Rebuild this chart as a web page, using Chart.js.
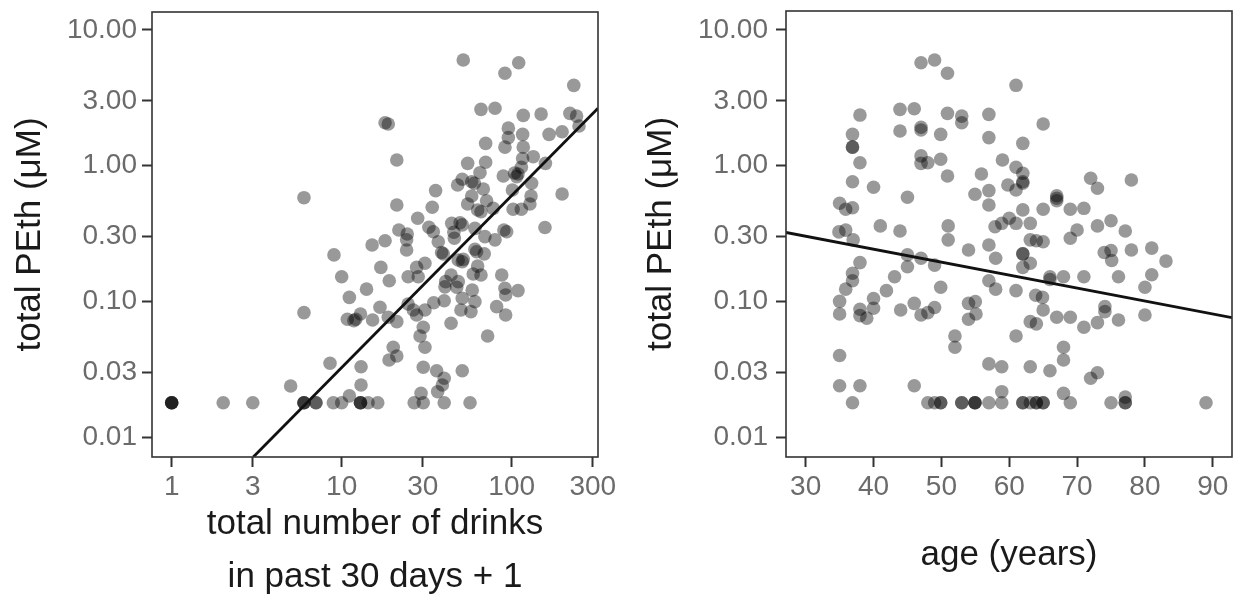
<!DOCTYPE html>
<html>
<head>
<meta charset="utf-8">
<script src="https://cdn.jsdelivr.net/npm/chart.js@4.4.1/dist/chart.umd.min.js"></script>
<style>
  html, body { margin: 0; padding: 0; background: #ffffff; }
  #wrap { position: relative; width: 1243px; height: 604px; overflow: hidden; background: #fff; }
  canvas { position: absolute; top: 0; }
  #c1 { left: 0px; }
  #c2 { left: 623px; }
</style>
</head>
<body>
<div id="wrap">
  <canvas id="c1" width="620" height="604"></canvas>
  <canvas id="c2" width="620" height="604"></canvas>
</div>
<script>
// ---------- DATA ----------
const yTickValues = [0.01, 0.03, 0.1, 0.3, 1, 3, 10];
const drinkTickValues = [1, 3, 10, 30, 100, 300];
const ageTickValues = [30, 40, 50, 60, 70, 80, 90];

// left panel: total drinks in past 30 days + 1
const drinks = [
  51.9, 110, 91.3, 232, 66, 79.8, 117, 149, 220, 241, 249, 18, 18.8, 95.6, 95.6, 116, 166, 198,
  70.3, 91.3, 117, 134, 21.1, 116, 70.3, 55.1, 158, 114, 65.1, 104, 109, 107, 89.3, 51.2,
  58.2, 60.3, 48.1, 68.1, 101, 131, 35.7, 58.2, 130, 198, 21.1, 34.1, 55.1, 71.2, 77.9, 63.1,
  66, 102, 114, 128, 28, 32.6, 34.6, 44.4, 49.7, 51.2, 21.7, 24.3, 24.1, 60.8, 90, 93.5, 157,
  18, 45.7, 46, 69.6, 79.8, 24.1, 15.1, 37, 38.7, 39.6, 60.8, 62.2, 69, 48.5, 51.2, 51.9,
  30.9, 27.6, 24.6, 28.2, 17, 19.05, 44, 40.9, 48.5, 40.5, 47.5, 63.1, 59.4, 66, 87.4, 58.6,
  91.3, 92.2, 109, 40.1, 34.8, 51.2, 60.8, 50.3, 57.6, 81.6, 92.2, 24.6, 26.4, 27.6, 30.9,
  16.8, 18.8, 21.1, 30.2, 28.9, 44, 72.2, 30.9, 20.1, 21.1, 19, 30.2, 36.2, 40.1, 39.1, 36.7,
  51.2, 29.3, 16.3, 26.7, 30.2, 40.1, 56.9,
  9.01, 10, 14, 11.1, 6, 10.8, 12.1, 11.8, 12.9, 15.2, 8.54, 13, 13, 5.01, 11.1,
  1, 1, 1, 1, 2.01, 3, 6, 6, 6, 7.06, 7.06, 8.93, 10, 12.9, 12.9, 12.9, 14.3, 6
];
const drinksPEth = [
  6.01, 5.74, 4.8, 3.91, 2.6, 2.65, 2.35, 2.4, 2.43, 2.32, 1.96, 2.07, 2.03, 1.89, 1.61, 1.7, 1.7, 1.78,
  1.46, 1.37, 1.37, 1.165, 1.1, 1.13, 1.06, 1.04, 1.04, 0.973, 0.888, 0.884, 0.869, 0.83, 0.839, 0.794,
  0.762, 0.742, 0.721, 0.673, 0.662, 0.742, 0.655, 0.598, 0.598, 0.619, 0.513, 0.494, 0.522, 0.552, 0.485, 0.472,
  0.458, 0.477, 0.477, 0.522, 0.41, 0.352, 0.326, 0.376, 0.38, 0.366, 0.336, 0.314, 0.284, 0.345, 0.336, 0.326, 0.35,
  0.28, 0.323, 0.292, 0.30, 0.284, 0.239, 0.26, 0.275, 0.229, 0.224, 0.242, 0.232, 0.224, 0.202, 0.196, 0.204,
  0.191, 0.178, 0.152, 0.152, 0.178, 0.142, 0.1565, 0.1397, 0.1397, 0.128, 0.127, 0.182, 0.159, 0.1565, 0.1565, 0.121,
  0.125, 0.1115, 0.12, 0.101, 0.0978, 0.1054, 0.0995, 0.0864, 0.084, 0.0914, 0.0794, 0.0957, 0.0864, 0.0794, 0.0864,
  0.0905, 0.0763, 0.0709, 0.0645, 0.0556, 0.069, 0.0556, 0.0459, 0.0459, 0.0396, 0.037, 0.0327, 0.0308, 0.0271, 0.0242, 0.0216,
  0.0308, 0.021, 0.0179, 0.0179, 0.0179, 0.0179, 0.0179,
  0.22, 0.152, 0.123, 0.107, 0.0826, 0.0738, 0.0738, 0.0721, 0.0807, 0.0729, 0.035, 0.033, 0.0242, 0.0238, 0.0201,
  0.0179, 0.0179, 0.0179, 0.0179, 0.0179, 0.0179, 0.0179, 0.0179, 0.0179, 0.0179, 0.0179, 0.0179, 0.0179, 0.0179, 0.0179, 0.0179, 0.0179, 0.581
];

// right panel: age in years
const ages = [
  47.0, 49.0, 50.9, 38.0, 43.9, 46.0, 50.9, 53.0, 53.0, 57.0, 36.9, 36.9, 36.9, 43.9, 47.0, 47.0, 49.9, 57.0,
  38.0, 36.9, 40.0, 45.0, 47.0, 47.0, 48.0, 49.9, 50.9, 55.9, 54.95, 57.0, 57.0, 59.0, 59.8,
  35.0, 35.9, 36.9, 34.9, 35.9, 41.0, 43.9, 51.0, 57.9, 58.9,
  61.0, 65.0, 62.0, 61.0, 62.0, 62.0, 61.0, 62.0, 67.0, 67.0, 67.0, 72.0, 73.0, 78.0, 62.0, 65.0, 69.0, 71.0,
  60.0, 61.0, 63.1, 70.0, 73.0, 75.0, 77.1,
  37.0, 51.0, 54.0, 57.0, 58.0, 38.0, 45.0, 47.0, 45.0, 49.0, 36.9, 36.9, 35.9, 43.1, 41.9, 49.9, 57.0, 58.0,
  35.0, 35.0, 38.0, 38.0, 39.0, 40.0, 40.0, 44.0, 46.0, 47.0, 48.0, 49.0, 54.0, 55.0, 54.0, 55.1, 52.0, 52.0,
  35.0, 57.0, 58.9, 35.0, 38.0, 46.0, 36.9, 58.9,
  48.0, 49.0, 49.9, 49.9, 53.0, 53.0, 54.95, 54.95, 54.95, 57.0, 58.9,
  63.1, 64.0, 65.0, 69.0, 62.0, 62.0, 63.1, 62.0, 74.0, 75.0, 75.1, 78.0, 81.0, 83.1, 66.0, 66.0, 68.0, 71.0,
  76.1, 81.0, 80.0, 61.0, 63.9, 64.9, 65.0, 63.1, 64.0, 67.0, 69.0, 71.0, 73.0, 74.1, 74.1, 76.1, 80.0, 61.0,
  68.0, 68.0, 63.1, 66.0, 73.0, 72.0, 68.0, 77.1,
  62.0, 62.0, 63.1, 64.0, 64.0, 65.0, 65.0, 69.0, 75.0, 77.1, 77.1, 89.0
];
const agePEth = [
  5.74, 6.01, 4.8, 2.36, 2.6, 2.63, 2.43, 2.32, 2.07, 2.39, 1.7, 1.37, 1.37, 1.8, 1.92, 1.83, 1.7, 1.61,
  1.05, 0.762, 0.693, 0.585, 1.18, 1.04, 1.05, 1.115, 0.839, 0.869, 0.616, 0.655, 0.513, 1.1, 0.721,
  0.528, 0.477, 0.49, 0.325, 0.335, 0.36, 0.33, 0.36, 0.355, 0.376,
  3.91, 2.03, 1.46, 0.973, 0.879, 0.762, 0.662, 0.742, 0.60, 0.575, 0.552, 0.808, 0.682, 0.784, 0.472, 0.477, 0.477, 0.485,
  0.41, 0.376, 0.376, 0.336, 0.36, 0.393, 0.33,
  0.284, 0.284, 0.239, 0.26, 0.208, 0.193, 0.22, 0.208, 0.18, 0.185, 0.161, 0.142, 0.123, 0.152, 0.12, 0.127, 0.142, 0.123,
  0.1, 0.0807, 0.0874, 0.0785, 0.0752, 0.105, 0.089, 0.0864, 0.0967, 0.0794, 0.0826, 0.0901, 0.0967, 0.0995, 0.0738, 0.0807, 0.0556, 0.0459,
  0.0399, 0.0346, 0.033, 0.0239, 0.0239, 0.0239, 0.0179, 0.0216,
  0.0179, 0.0179, 0.0179, 0.0179, 0.0179, 0.0179, 0.0179, 0.0179, 0.0179, 0.0179, 0.0179,
  0.284, 0.28, 0.275, 0.292, 0.224, 0.224, 0.191, 0.178, 0.229, 0.237, 0.2, 0.239, 0.247, 0.198, 0.152, 0.145, 0.152, 0.152,
  0.152, 0.157, 0.127, 0.12, 0.111, 0.107, 0.0864, 0.0709, 0.0683, 0.0763, 0.0763, 0.0645, 0.0697, 0.0914, 0.084, 0.0729, 0.0794, 0.0556,
  0.0459, 0.037, 0.033, 0.0308, 0.0298, 0.0271, 0.021, 0.0197,
  0.0179, 0.0179, 0.0179, 0.0179, 0.0179, 0.0179, 0.0179, 0.0179, 0.0179, 0.0179, 0.0179, 0.0179
];

// fitted regression lines (end points)
const fitDrinks = [3.02, 322];
const fitDrinksPEth = [0.00713, 2.65];
const fitAges = [27.1, 92.83];
const fitAgesPEth = [0.322, 0.0758];

// ---------- STYLE ----------
const FONT = "'Liberation Sans', Arial, Helvetica, sans-serif";
const TICK_COLOR = '#6b6b6b';
const TITLE_COLOR = '#1a1a1a';
const POINT_COLOR = 'rgba(0,0,0,0.4)';

const boxPlugin = {
  id: 'panelBox',
  afterDatasetsDraw(chart) {
    const { ctx, chartArea: { left, top, right, bottom } } = chart;
    ctx.save();
    ctx.strokeStyle = '#333333';
    ctx.lineWidth = 1.6;
    ctx.strokeRect(left, top, right - left, bottom - top);
    ctx.restore();
  }
};

function pairs(xs, ys) { return xs.map((x, i) => ({ x: x, y: ys[i] })); }

function makeChart(id, cfg) {
  const ctx = document.getElementById(id);
  return new Chart(ctx, {
    type: 'scatter',
    data: {
      datasets: [
        {
          type: 'line',
          data: pairs(cfg.fitX, cfg.fitY),
          borderColor: '#111111',
          borderWidth: 2.8,
          pointRadius: 0,
          fill: false,
          tension: 0
        },
        {
          data: pairs(cfg.xs, cfg.ys),
          backgroundColor: POINT_COLOR,
          borderWidth: 0,
          pointRadius: 6.8,
          pointHoverRadius: 6.8
        }
      ]
    },
    options: {
      responsive: false,
      animation: false,
      events: [],
      layout: { padding: { top: cfg.padTop, right: cfg.padRight, left: 0, bottom: 0 } },
      plugins: { legend: { display: false }, tooltip: { enabled: false } },
      scales: {
        x: {
          type: cfg.xType,
          position: 'bottom',
          min: cfg.xMin,
          max: cfg.xMax,
          afterFit(scale) {
            scale.height = 147;
            scale.paddingLeft = 0; scale.paddingRight = 0;
          },
          afterBuildTicks(scale) { scale.ticks = cfg.xTicks.map(v => ({ value: v })); },
          grid: { drawOnChartArea: false, drawTicks: true, tickLength: 10, tickColor: '#333333', tickWidth: 2 },
          border: { display: false },
          ticks: {
            autoSkip: false, maxRotation: 0, minRotation: 0, padding: 3,
            color: TICK_COLOR, font: { family: FONT, size: 28 },
            callback: (v) => String(v)
          },
          title: {
            display: true, text: cfg.xTitle, color: TITLE_COLOR,
            font: { family: FONT, size: 35, lineHeight: 1.52 },
            padding: { top: 0, bottom: cfg.xTitlePadBottom }
          }
        },
        y: {
          type: 'logarithmic',
          position: 'left',
          min: 0.00713,
          max: cfg.yMax,
          afterFit(scale) {
            scale.width = cfg.yWidth;
            scale.paddingTop = 0; scale.paddingBottom = 0;
          },
          afterBuildTicks(scale) { scale.ticks = yTickValues.map(v => ({ value: v })); },
          grid: { drawOnChartArea: false, drawTicks: true, tickLength: 10, tickColor: '#333333', tickWidth: 2 },
          border: { display: false },
          ticks: {
            autoSkip: false, padding: cfg.yTickPad,
            color: TICK_COLOR, font: { family: FONT, size: 28 },
            callback: (v) => Number(v).toFixed(2)
          },
          title: {
            display: true, text: 'total PEth (\u03bcM)', color: TITLE_COLOR,
            font: { family: FONT, size: 35, lineHeight: 1.2 },
            padding: { top: cfg.yTitlePad, bottom: 0 }
          }
        }
      }
    },
    plugins: [boxPlugin]
  });
}

makeChart('c1', {
  xs: drinks, ys: drinksPEth, fitX: fitDrinks, fitY: fitDrinksPEth,
  xType: 'logarithmic', xMin: 0.766, xMax: 322, xTicks: drinkTickValues,
  xTitle: ['total number of drinks', 'in past 30 days + 1'], xTitlePadBottom: 0,
  padTop: 12, padRight: 22, yWidth: 152, yMax: 13.57, yTickPad: 5, yTitlePad: 9
});

makeChart('c2', {
  xs: ages, ys: agePEth, fitX: fitAges, fitY: fitAgesPEth,
  xType: 'linear', xMin: 27.1, xMax: 92.83, xTicks: ageTickValues,
  xTitle: 'age (years)', xTitlePadBottom: 22,
  padTop: 11, padRight: 11, yWidth: 163, yMax: 13.8, yTickPad: 8, yTitlePad: 17
});
</script>
</body>
</html>
